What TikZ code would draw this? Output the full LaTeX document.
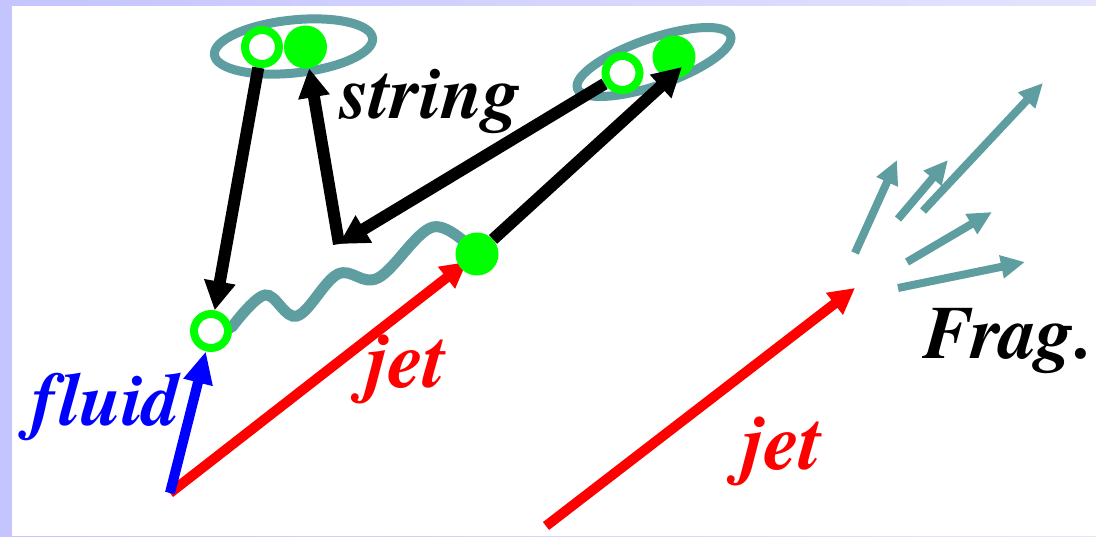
\documentclass[tikz,border=0pt]{standalone}
\usepackage{fontspec}
\newfontfamily\lblfont{texgyretermes-bolditalic.otf}[Ligatures=NoCommon]
\usetikzlibrary{arrows.meta,shapes.geometric}
\pgfdeclarelayer{back}
\pgfdeclarelayer{under}
\pgfsetlayers{back,under,main}
\definecolor{cadet}{RGB}{95,158,160}
\definecolor{brightgreen}{RGB}{0,255,0}
\definecolor{lavA}{RGB}{196,196,255}
\definecolor{lavB}{RGB}{228,228,255}
\begin{document}
\begin{tikzpicture}[x=1pt,y=-1pt,
  lbl/.style={font=\lblfont\fontsize{75}{75}\selectfont, inner sep=0pt, anchor=base west},
  bigl/.style={lbl, font=\lblfont\fontsize{80}{80}\selectfont},
  ring/.style={circle, draw=brightgreen, fill=white, line width=8pt, minimum size=34pt, inner sep=0pt},
  dot/.style={circle, fill=brightgreen, minimum size=43pt, inner sep=0pt},
  pairloop/.style={ellipse, draw=cadet, line width=9pt, inner sep=0pt},
  blk/.style={line width=12pt, -{Triangle[length=29pt,width=30pt]}},
  redarr/.style={red, line width=10pt, -{Triangle[length=26pt,width=26pt]}},
  bluearr/.style={blue, line width=10pt, -{Triangle[length=32pt,width=28pt]}},
  fragarr/.style={cadet, line width=8pt, -{Triangle[length=24pt,width=22pt]}},
  wave/.style={cadet, line width=11pt, line cap=round}
]
\useasboundingbox (0,0) rectangle (1096,536);

% slide background: lavender frame at top and left, white canvas
\begin{pgfonlayer}{back}
  \shade[left color=lavA, right color=lavB] (0,0) rectangle (1096,536);
  \fill[white] (12,6) rectangle (1096,536);
\end{pgfonlayer}

% string end pairs
\node[pairloop, minimum width=159pt, minimum height=53pt, rotate=6] (s1) at (293.5,46.5) {};
\node[pairloop, minimum width=162pt, minimum height=47pt, rotate=19] (s2) at (654,62) {};

\node[ring] (o1) at (262,47) {};
\node[dot]  (f1) at (305.5,47) {};
\node[ring] (o2) at (622.5,73) {};
\node[dot]  (f2) at (674,57) {};
\node[ring] (o3) at (211,331) {};
\node[dot]  (f3) at (477,254) {};

% helper points
\coordinate (k)  at (339,244);
\coordinate (t2) at (682,67);
\coordinate (v)  at (170,493);
\coordinate (ja) at (546,526);
\coordinate (jb) at (855,288);

% fragmentation products
\coordinate (fs1) at (855,253);  \coordinate (fe1) at (897,160);
\coordinate (fs2) at (898,219);  \coordinate (fe2) at (948,160);
\coordinate (fs3) at (923,211);  \coordinate (fe3) at (1043,83);
\coordinate (fs4) at (907,262);  \coordinate (fe4) at (992,212);
\coordinate (fs5) at (898,288);  \coordinate (fe5) at (1025,262);

\begin{pgfonlayer}{under}
  % string between the two partons
  \draw[wave] plot[smooth, tension=0.6] coordinates
    {(o3.10) (265,295) (297,316) (338,274) (378,278) (433,227) (f3.center)};
  % jet parton
  \draw[redarr, shorten >=-9pt] (v) -- (f3);
\end{pgfonlayer}

\draw[bluearr] (v) -- (o3);

\draw[blk] (o1) -- (o3);
\draw[blk] (k) -- (f1);
\draw[blk] (o2) -- (k);
\draw[blk] (f3) -- (t2);

\draw[redarr] (ja) -- (jb);
\foreach \i in {1,...,5} \draw[fragarr] (fs\i) -- (fe\i);

\node[lbl] (lstr) at (340,118) {string};
\node[lbl] (lfrag) at (923,358) {Frag.};
\node[bigl, text=red] (ljet1) at (366,387) {jet};
\node[bigl, text=red] (ljet2) at (742,469) {jet};
\node[lbl, text=blue] (lfl) at (31,425) {fluid};
\end{tikzpicture}
\end{document}
